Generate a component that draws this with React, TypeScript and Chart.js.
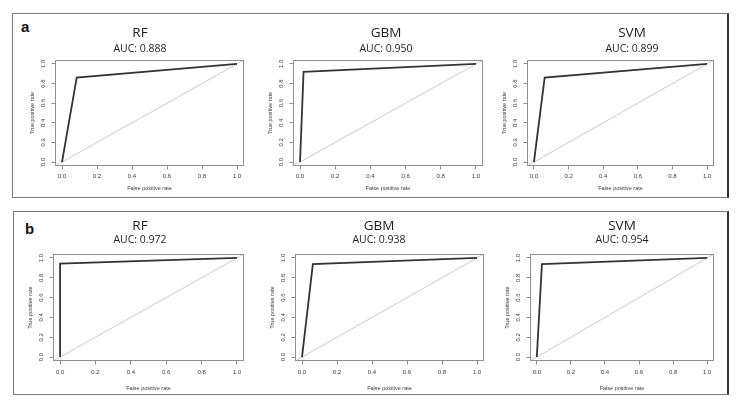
import React, { useEffect, useRef } from "react";
import { Chart, registerables } from "chart.js";

Chart.register(...registerables);

// ---------- data ----------
const MODELS = ["RF", "GBM", "SVM"];
const PANEL_LABELS = ["a", "b"];
const AUC_A = [0.888, 0.95, 0.899];
const AUC_B = [0.972, 0.938, 0.954];
const FPR_A = [
  [0, 0.084, 1],
  [0, 0.02, 1],
  [0, 0.062, 1],
];
const TPR_A = [
  [0, 0.86, 1],
  [0, 0.92, 1],
  [0, 0.86, 1],
];
const FPR_B = [
  [0, 0, 1],
  [0, 0.062, 1],
  [0, 0.03, 1],
];
const TPR_B = [
  [0, 0.944, 1],
  [0, 0.938, 1],
  [0, 0.938, 1],
];
const AXIS_RANGE = [-0.04, 1.04];
const DIAGONAL = [-0.04, 1.04];
const TICK_VALUES = [0, 0.2, 0.4, 0.6, 0.8, 1.0];
const X_TITLE = "False positive rate";
const Y_TITLE = "True positive rate";

const AUCS = [AUC_A, AUC_B];
const FPRS = [FPR_A, FPR_B];
const TPRS = [TPR_A, TPR_B];

// ---------- layout / style ----------
const TITLE_FONT = "'Open Sans', 'Noto Sans', sans-serif";
const AXIS_FONT = "'Liberation Sans', Arial, sans-serif";
const BOX_COLOR = "#8f8f8f";
const TEXT_COLOR = "#3a3a3a";

const ROWS = [
  {
    canvasTop: 16,
    titleY: 33,
    aucY: 49,
    boxTop: 60,
    boxBottom: 166,
    tickGap: 10,
    xTitleGap: 22.5,
    boxes: [
      [55, 244],
      [293, 483],
      [527, 714],
    ],
    titleX: [140, 386, 632],
  },
  {
    canvasTop: 213,
    titleY: 226,
    aucY: 240,
    boxTop: 254,
    boxBottom: 361,
    tickGap: 11,
    xTitleGap: 27,
    boxes: [
      [53, 244],
      [295, 484],
      [530, 714],
    ],
    titleX: [140, 379, 622],
  },
];

const boxPlugin = {
  id: "plotBox",
  afterDraw(chart: any) {
    const { ctx, chartArea: a } = chart;
    ctx.save();
    ctx.strokeStyle = BOX_COLOR;
    ctx.lineWidth = 1;
    const l = Math.round(a.left) + 0.5;
    const t = Math.round(a.top) + 0.5;
    const r = Math.round(a.right) - 0.5;
    const b = Math.round(a.bottom) - 0.5;
    ctx.strokeRect(l, t, r - l, b - t);
    ctx.restore();
  },
};

function RocPlot({ r, c }: { r: number; c: number }) {
  const ref = useRef<HTMLCanvasElement | null>(null);
  const row = ROWS[r];
  const [bl, br] = row.boxes[c];
  const WY = 28;
  const WR = Math.round(WY + (2 * row.titleX[c] - bl - br));
  const TL = 3.5;
  const tickSize = 6;
  const tickLH = 1.2;
  const axTitleSize = 5.5;
  const axTitleLH = 1.2;
  const left = bl - WY;
  const width = WY + (br - bl) + WR;
  const top = row.canvasTop;
  const height = Math.round(row.boxBottom + row.xTitleGap + 4 - top);
  const hx = top + height - row.boxBottom;

  useEffect(() => {
    if (!ref.current) return;
    const titleLH = 13.5;
    const subLH = 10.5;
    const titlePadTop = row.titleY - top - titleLH / 2;
    const S = top + titlePadTop + titleLH;
    const subPadTop = row.aucY - S - subLH / 2;
    const subPadBottom = row.boxTop - row.aucY - subLH / 2;
    const xTickPad = row.tickGap - TL - (tickSize * tickLH) / 2;
    const xTitlePadBottom = hx - (axTitleSize * axTitleLH) / 2 - row.xTitleGap;
    const yTickPad = 11.5 - TL - 4.2;
    const yTitlePadTop = WY - 23 - (axTitleSize * axTitleLH) / 2;

    const fpr = FPRS[r][c];
    const tpr = TPRS[r][c];

    const chart = new Chart(ref.current, {
      type: "scatter",
      data: {
        datasets: [
          {
            data: DIAGONAL.map((v) => ({ x: v, y: v })),
            showLine: true,
            borderColor: "#cccccc",
            borderWidth: 1,
            pointRadius: 0,
            order: 2,
          },
          {
            data: fpr.map((x, i) => ({ x, y: tpr[i] })),
            showLine: true,
            borderColor: "#333333",
            borderWidth: 1.8,
            pointRadius: 0,
            order: 1,
          },
        ],
      },
      options: {
        animation: false,
        responsive: false,
        devicePixelRatio: 1,
        layout: { padding: 0 },
        plugins: {
          legend: { display: false },
          tooltip: { enabled: false },
          title: {
            display: true,
            text: MODELS[c],
            color: "#1e1e1e",
            font: { family: TITLE_FONT, size: 13.5, lineHeight: 1, weight: "normal" },
            padding: { top: titlePadTop, bottom: 0 },
          },
          subtitle: {
            display: true,
            text: `AUC: ${AUCS[r][c].toFixed(3)}`,
            color: "#1e1e1e",
            font: { family: TITLE_FONT, size: 10.5, lineHeight: 1 },
            padding: { top: subPadTop, bottom: subPadBottom },
          },
        },
        scales: {
          x: {
            type: "linear",
            position: "bottom",
            min: AXIS_RANGE[0],
            max: AXIS_RANGE[1],
            afterBuildTicks: (s: any) => {
              s.ticks = TICK_VALUES.map((v) => ({ value: v }));
            },
            afterFit: (s: any) => {
              s.height = hx;
            },
            ticks: {
              autoSkip: false,
              maxRotation: 0,
              padding: xTickPad,
              color: TEXT_COLOR,
              font: { family: AXIS_FONT, size: tickSize, lineHeight: tickLH },
              callback: (v: any) => Number(v).toFixed(1),
            },
            grid: { drawOnChartArea: false, drawTicks: true, tickLength: TL, color: BOX_COLOR },
            border: { display: false },
            title: {
              display: true,
              text: X_TITLE,
              color: TEXT_COLOR,
              font: { family: AXIS_FONT, size: axTitleSize, lineHeight: axTitleLH },
              padding: { top: 0, bottom: xTitlePadBottom },
            },
          },
          y: {
            type: "linear",
            position: "left",
            min: AXIS_RANGE[0],
            max: AXIS_RANGE[1],
            afterBuildTicks: (s: any) => {
              s.ticks = TICK_VALUES.map((v) => ({ value: v }));
            },
            afterFit: (s: any) => {
              s.width = WY;
            },
            ticks: {
              autoSkip: false,
              minRotation: 90,
              maxRotation: 90,
              crossAlign: "center",
              padding: yTickPad,
              color: TEXT_COLOR,
              font: { family: AXIS_FONT, size: tickSize, lineHeight: tickLH },
              callback: (v: any) => Number(v).toFixed(1),
            },
            grid: { drawOnChartArea: false, drawTicks: true, tickLength: TL, color: BOX_COLOR },
            border: { display: false },
            title: {
              display: true,
              text: Y_TITLE,
              color: TEXT_COLOR,
              font: { family: AXIS_FONT, size: axTitleSize, lineHeight: axTitleLH },
              padding: { top: yTitlePadTop, bottom: 0 },
            },
          },
          yRight: {
            type: "linear",
            position: "right",
            display: true,
            afterFit: (s: any) => {
              s.width = WR;
            },
            ticks: { display: false },
            grid: { display: false },
            border: { display: false },
            title: { display: false },
          },
        },
      } as any,
      plugins: [boxPlugin],
    });
    return () => chart.destroy();
  }, [r, c]);

  return (
    <canvas
      ref={ref}
      width={width}
      height={height}
      style={{ position: "absolute", left, top, width, height }}
    />
  );
}

export default function App() {
  return (
    <div
      style={{
        position: "fixed",
        left: 0,
        top: 0,
        width: 740,
        height: 402,
        background: "#fff",
        overflow: "hidden",
      }}
    >
      <div
        style={{
          position: "absolute",
          left: 12,
          top: 13,
          width: 717,
          height: 185,
          boxSizing: "border-box",
          borderLeft: "1px solid #7a7a7a",
          borderTop: "1px solid #7a7a7a",
          borderBottom: "1px solid #7a7a7a",
          borderRight: "2px solid #333",
        }}
      />
      <div
        style={{
          position: "absolute",
          left: 13,
          top: 211,
          width: 716,
          height: 184,
          boxSizing: "border-box",
          borderLeft: "1px solid #7a7a7a",
          borderTop: "1px solid #7a7a7a",
          borderBottom: "1px solid #7a7a7a",
          borderRight: "2px solid #333",
        }}
      />
      {PANEL_LABELS.map((lab, i) => (
        <div
          key={lab}
          style={{
            position: "absolute",
            left: i === 0 ? 21 : 25,
            top: i === 0 ? 19 : 221,
            fontFamily: AXIS_FONT,
            fontWeight: "bold",
            fontSize: 15,
            lineHeight: "15px",
            color: "#111",
          }}
        >
          {lab}
        </div>
      ))}
      {[0, 1].map((r) =>
        [0, 1, 2].map((c) => <RocPlot key={`${r}-${c}`} r={r} c={c} />)
      )}
    </div>
  );
}
